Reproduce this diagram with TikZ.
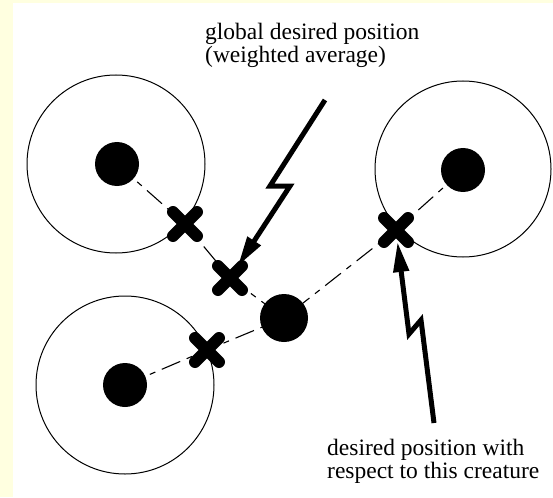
\documentclass[tikz,border=0pt]{standalone}
\usepackage{fontspec}
\setmainfont{Liberation Serif}
\usetikzlibrary{arrows.meta,shapes.misc,backgrounds}
\definecolor{bgyellow}{RGB}{255,255,224}
\begin{document}
\begin{tikzpicture}[x=1pt,y=-1pt,
  range/.style={circle,draw,line width=1pt,minimum size=#1,inner sep=0},
  creature/.style={circle,fill,minimum size=#1,inner sep=0},
  target/.style={cross out,draw,line width=12pt,line cap=round,minimum size=14pt,inner sep=0,outer sep=5pt},
  conn/.style={line width=1.1pt,dash pattern=on 20pt off 7pt on 6pt off 7pt},
  bolt/.style={line width=5pt,line join=miter,-{Triangle[length=30pt,width=15pt]}},
  note/.style={align=left,inner sep=0,anchor=north west,font=\fontsize{23.5}{23}\selectfont}]
\useasboundingbox (0,0) rectangle (553,497);

% ranges
\node[range=178pt] (tlr) at (116,164) {};
\node[range=178pt] (blr) at (125,385) {};
\node[range=176pt] (trr) at (463,169) {};

% creatures
\node[creature=44pt] (tld) at (117,164) {};
\node[creature=44pt] (bld) at (125,385) {};
\node[creature=44pt] (trd) at (463,170) {};
\node[creature=48pt] (cd) at (284,318) {};

% desired positions
\node[target] (tlc) at (185,224) {};
\node[target] (blc) at (207,350) {};
\node[target] (trc) at (396,230) {};
\node[target] (gc) at (230,278) {};

\begin{pgfonlayer}{background}
\fill[bgyellow] (0,0) rectangle (553,497);
\fill[white] (13,3) rectangle (553,497);
\draw[conn] (tld.center) -- (tlc.center) -- (gc.center) -- (cd.center);
\draw[conn] (bld.center) -- (blc.center) -- (cd.center);
\draw[conn] (trd.center) -- (trc.center) -- (cd.center);
\end{pgfonlayer}

% bolts
\coordinate (b1) at (325,100);
\coordinate (b1z1) at (270,186);
\coordinate (b1z2) at (290,186);
\draw[bolt] (b1) -- (b1z1) -- (b1z2) -- (gc);

\coordinate (b2) at (434,423);
\coordinate (b2z1) at (421,320);
\coordinate (b2z2) at (409,334);
\draw[bolt] (b2) -- (b2z1) -- (b2z2) -- (trc);

% texts
\node[note] (t1) at (205,23) {global desired position\\(weighted average)};
\node[note] (t2) at (327,439) {desired position with\\respect to this creature};
\end{tikzpicture}
\end{document}
